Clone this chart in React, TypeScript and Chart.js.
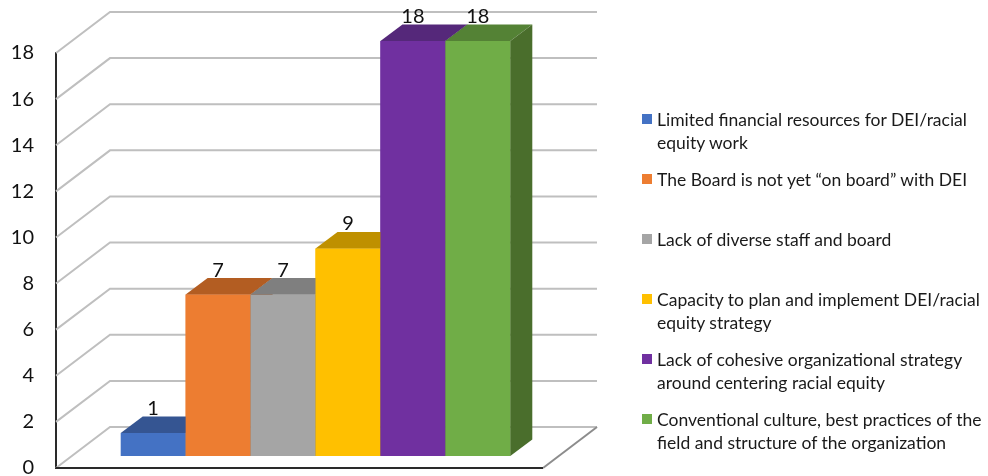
import React, { useEffect, useRef } from 'react';
import { Chart, registerables } from 'chart.js';

Chart.register(...registerables);

const categories = [''];
const seriesLabels = [
  'Limited financial resources for DEI/racial equity work',
  'The Board is not yet \u201Con board\u201D with DEI',
  'Lack of diverse staff and board',
  'Capacity to plan and implement DEI/racial equity strategy',
  'Lack of cohesive organizational strategy around centering racial equity',
  'Conventional culture, best practices of the field and structure of the organization',
];
const legendLines = [
  ['Limited financial resources for DEI/racial', 'equity work'],
  ['The Board is not yet \u201Con board\u201D with DEI'],
  ['Lack of diverse staff and board'],
  ['Capacity to plan and implement DEI/racial', 'equity strategy'],
  ['Lack of cohesive organizational strategy', 'around centering racial equity'],
  ['Conventional culture, best practices of the', 'field and structure of the organization'],
];
const seriesValues = [1, 7, 7, 9, 18, 18];
const frontColors = ['#4472C4', '#ED7D31', '#A5A5A5', '#FFC000', '#7030A0', '#70AD47'];
const topColors = ['#355592', '#B35D22', '#7F7F7F', '#BF9000', '#55287A', '#548235'];
const sideColors = ['#2E4A80', '#9C511E', '#6E6E6E', '#A67D00', '#4A226A', '#4A6E2C'];
const yMin = 0;
const yMax = 18;
const yStep = 2;

const FONT = 'Lato, "Open Sans", sans-serif';
const BAR_SHIFT = { x: 16, y: -12 };
const BAR_DEPTH = { x: 22, y: -16.5 };
const WALL_DEPTH = { x: 54, y: -41 };

const threeD = {
  id: 'threeD',
  beforeDatasetsDraw(chart: any) {
    const { ctx, chartArea, scales } = chart;
    const y = scales.y;
    ctx.save();
    ctx.strokeStyle = '#bfbfbf';
    ctx.lineWidth = 2;
    y.ticks.forEach((t: any) => {
      const py = y.getPixelForValue(t.value);
      ctx.beginPath();
      ctx.moveTo(chartArea.left, py);
      ctx.lineTo(chartArea.left + WALL_DEPTH.x, py + WALL_DEPTH.y);
      ctx.lineTo(chartArea.right + WALL_DEPTH.x, py + WALL_DEPTH.y);
      ctx.stroke();
    });
    const py0 = y.getPixelForValue(yMin);
    ctx.strokeStyle = '#8c8c8c';
    ctx.beginPath();
    ctx.moveTo(chartArea.right, py0);
    ctx.lineTo(chartArea.right + WALL_DEPTH.x, py0 + WALL_DEPTH.y);
    ctx.stroke();
    ctx.strokeStyle = '#2a2a2a';
    ctx.lineWidth = 2;
    ctx.beginPath();
    ctx.moveTo(chartArea.left, py0);
    ctx.lineTo(chartArea.right, py0);
    ctx.stroke();
    ctx.restore();
    ctx.save();
    ctx.translate(BAR_SHIFT.x, BAR_SHIFT.y);
  },
  afterDatasetsDraw(chart: any) {
    const { ctx } = chart;
    const n = chart.data.datasets.length;
    const tops: any[] = [];
    for (let i = 0; i < n; i++) {
      const el = chart.getDatasetMeta(i).data[0];
      const { x, y, base, width } = el.getProps(['x', 'y', 'base', 'width'], true);
      const l = x - width / 2;
      const r = x + width / 2;
      ctx.fillStyle = topColors[i];
      ctx.beginPath();
      ctx.moveTo(l, y);
      ctx.lineTo(l + BAR_DEPTH.x, y + BAR_DEPTH.y);
      ctx.lineTo(r + BAR_DEPTH.x, y + BAR_DEPTH.y);
      ctx.lineTo(r, y);
      ctx.closePath();
      ctx.fill();
      ctx.fillStyle = sideColors[i];
      ctx.beginPath();
      ctx.moveTo(r, y);
      ctx.lineTo(r + BAR_DEPTH.x, y + BAR_DEPTH.y);
      ctx.lineTo(r + BAR_DEPTH.x, base + BAR_DEPTH.y);
      ctx.lineTo(r, base);
      ctx.closePath();
      ctx.fill();
      if (i + 1 < n) chart.getDatasetMeta(i + 1).data[0].draw(ctx);
      tops.push({ x, y, v: chart.data.datasets[i].data[0] });
    }
    ctx.fillStyle = '#111';
    ctx.font = `20px ${FONT}`;
    ctx.textAlign = 'center';
    ctx.textBaseline = 'bottom';
    tops.forEach((t) => {
      ctx.fillText(String(t.v), t.x, t.y + BAR_DEPTH.y + 2);
    });
    ctx.restore();
  },
};

export default function App() {
  const canvasRef = useRef<HTMLCanvasElement | null>(null);

  useEffect(() => {
    document.body.style.margin = '0';
    const canvas = canvasRef.current;
    if (!canvas) return;
    const chart = new Chart(canvas, {
      type: 'bar',
      data: {
        labels: categories,
        datasets: seriesLabels.map((label, i) => ({
          label,
          data: [seriesValues[i]],
          backgroundColor: frontColors[i],
          borderWidth: 0,
        })),
      },
      options: {
        animation: false,
        responsive: false,
        devicePixelRatio: 1,
        layout: { padding: { left: 0, right: 445, top: 53, bottom: 8 } },
        datasets: { bar: { categoryPercentage: 0.8, barPercentage: 1.0 } },
        plugins: { legend: { display: false }, tooltip: { enabled: false } },
        scales: {
          x: { display: false },
          y: {
            min: yMin,
            max: yMax,
            ticks: {
              stepSize: yStep,
              color: '#111',
              padding: 22,
              font: { family: FONT, size: 20 },
            },
            grid: { display: false, drawTicks: false },
            border: { display: true, color: '#2a2a2a', width: 2 },
            afterFit: (s: any) => {
              s.width = 56;
              s.paddingTop = 0;
              s.paddingBottom = 0;
            },
          },
        },
      },
      plugins: [threeD],
    });
    return () => chart.destroy();
  }, []);

  return (
    <div style={{ position: 'relative', width: 988, height: 476, background: '#fff', fontFamily: FONT }}>
      <canvas ref={canvasRef} width={988} height={476} style={{ display: 'block', width: 988, height: 476 }} />
      {legendLines.map((lines, i) => (
        <div
          key={i}
          style={{
            position: 'absolute',
            left: 642,
            top: 107.5 + 60 * i,
            display: 'flex',
            alignItems: 'flex-start',
            color: '#1a1a1a',
            fontSize: 17.5,
            lineHeight: '23px',
            whiteSpace: 'nowrap',
          }}
        >
          <span
            style={{
              display: 'inline-block',
              width: 10,
              height: 10,
              marginTop: 6.5,
              marginRight: 5,
              background: frontColors[i],
            }}
          />
          <span>
            {lines.map((ln, j) => (
              <div key={j}>{ln}</div>
            ))}
          </span>
        </div>
      ))}
    </div>
  );
}
